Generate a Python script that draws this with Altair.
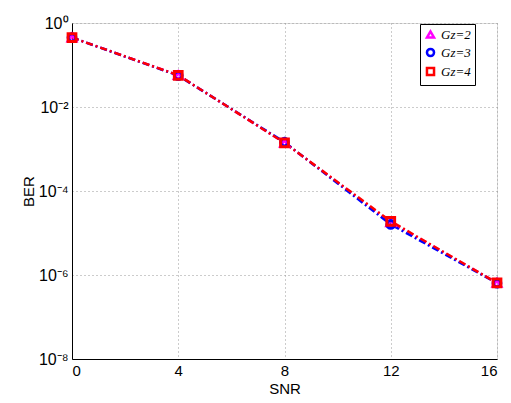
import altair as alt
import pandas as pd

snr = [0, 4, 8, 12, 16]
ber_g2 = [0.45, 0.057, 1.40e-3, 1.8e-5, 6.5e-7]
ber_g3 = [0.45, 0.056, 1.45e-3, 1.6e-5, 6.4e-7]
ber_g4 = [0.45, 0.057, 1.40e-3, 1.9e-5, 6.5e-7]
series = ["Gz=2", "Gz=3", "Gz=4"]
colors = ["#ff00ff", "#0000ff", "#ff0000"]
shapes = ["triangle-up", "circle", "square"]
x_ticks = [0, 4, 8, 12, 16]
y_ticks = [1, 1e-2, 1e-4, 1e-6, 1e-8]

rows = []
for name, vals in zip(series, [ber_g2, ber_g3, ber_g4]):
    for s, b in zip(snr, vals):
        rows.append({"SNR": s, "BER": b, "series": name})
df = pd.DataFrame(rows)

x = alt.X("SNR:Q", title="SNR",
          scale=alt.Scale(domain=[0, 16], nice=False),
          axis=alt.Axis(values=x_ticks, grid=True, gridDash=[1, 3], gridColor="#999",
                        ticks=False, domainColor="#000", labelPadding=4,
                        labelFontSize=15, titleFontSize=15, titlePadding=3,
                        labelFont="Liberation Sans", titleFont="Liberation Sans",
                        titleFontWeight="normal", labelColor="#000", titleColor="#000"))
y = alt.Y("BER:Q", title="BER",
          scale=alt.Scale(type="log", domain=[1e-8, 1], nice=False),
          axis=alt.Axis(values=y_ticks, grid=True, gridDash=[1, 3], gridColor="#999",
                        ticks=False, domainColor="#000", labelPadding=4,
                        labelExpr="'10' + ['\u2070','\u207b\u00b2','\u207b\u2074','\u207b\u2076','\u207b\u2078'][round(-log(datum.value)/LN10/2)]",
                        labelFontSize=16, titleFontSize=15, titlePadding=2,
                        labelFont="Liberation Sans", titleFont="Liberation Sans",
                        titleFontWeight="normal", labelColor="#000", titleColor="#000"))

legend = alt.Legend(title=None, orient="none", legendX=348, legendY=1,
                    fillColor="white", strokeColor="#000", padding=4,
                    labelFont="Liberation Serif", labelFontStyle="italic",
                    labelFontSize=13, symbolSize=50, symbolStrokeWidth=2.5,
                    rowPadding=0, labelColor="#000")
color = alt.Color("series:N", scale=alt.Scale(domain=series, range=colors), legend=legend)
shape = alt.Shape("series:N", scale=alt.Scale(domain=series, range=shapes), legend=legend)

lines = alt.Chart(df).mark_line(strokeWidth=2.5, strokeDash=[7, 3, 2, 3]).encode(
    x=x, y=y, color=color, detail="series:N")
points = alt.Chart(df).mark_point(filled=False, size=60, strokeWidth=3, opacity=1).encode(
    x=x, y=y, color=color, shape=shape)

chart = (lines + points).properties(
    width=425, height=336,
    autosize=alt.AutoSizeParams(type="none"),
    padding={"left": 72, "top": 23, "right": 14, "bottom": 44},
).configure_view(stroke="#000", strokeWidth=1).configure(background="white")

chart.save("out.html", embed_options={"renderer": "svg", "actions": False})
